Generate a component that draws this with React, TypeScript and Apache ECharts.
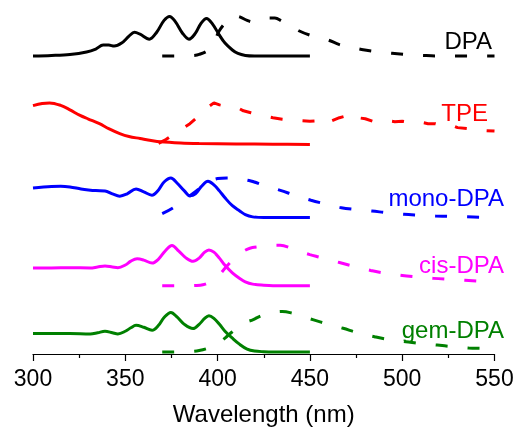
import React, { useEffect, useRef } from "react";
import * as echarts from "echarts";

// Wavelength axis ticks
const xTicks = [300, 350, 400, 450, 500, 550];

// Sample names and colours
const samples = ["DPA", "TPE", "mono-DPA", "cis-DPA", "gem-DPA"];
const colors = ["#000000", "#FF0000", "#0000FF", "#FF00FF", "#008000"];
// vertical offsets of each stacked spectrum (a.u.)
const offsets = [301.5, 212, 138, 69, 2];

// ---- DPA ----
const dpaAbsNm = [300, 310, 320, 329, 334, 338, 341, 344, 348, 352, 355, 358, 363, 367, 371, 374, 377, 381, 384.5, 388, 391, 394, 397, 401, 404, 408, 411, 415, 420, 450];
const dpaAbs = [0, 0.5, 1.5, 4, 7, 11, 11, 10, 13, 20, 24, 22, 17, 24, 36, 40, 35, 23, 17, 23, 33, 38, 33, 21, 13, 6, 2.5, 0.5, 0, 0];
const dpaEmNm = [370, 380, 387, 390, 395, 398, 401, 405, 409, 412, 416, 419, 423, 427, 431, 435, 440, 444, 450, 455, 460, 466, 472, 478, 485, 494.5, 503, 512, 520, 535, 550];
const dpaEm = [0, 0, 0.5, 1.5, 6, 14, 25.7, 35, 40.5, 39.5, 36, 34.5, 36.5, 38.5, 38.5, 35, 30, 25.5, 21, 18.5, 16, 11.5, 9, 6.5, 4.5, 2.7, 1.5, 0.5, 0, 0, 0];

// ---- TPE ----
const tpeAbsNm = [300, 305, 309, 315, 320, 325.5, 330, 336, 341, 347, 352, 358, 364, 369, 380, 390, 410, 430, 450];
const tpeAbs = [39.3, 41.5, 42, 39.5, 35, 29.3, 25.7, 21, 16, 11, 8, 6, 4, 2.7, 1.5, 1, 0.5, 0.2, 0];
const tpeEmNm = [368, 372, 376, 380, 385, 390, 395, 398, 401, 405, 410, 414, 418, 422, 426, 430, 435, 440, 445, 450, 455, 459, 462, 466, 470, 473, 476, 480, 484, 488, 492, 496, 500, 505, 510, 514, 518, 522, 526, 530, 535, 540, 545, 550];
const tpeEm = [1, 5, 10, 15, 21, 29, 38, 42, 40, 38.5, 38, 34, 32, 30, 28.5, 27, 25.5, 24.5, 24, 23.5, 24, 28, 24, 27, 29, 24, 27, 26, 23.5, 25, 24, 23, 23.5, 22, 22.5, 21, 21, 19, 20, 17, 16, 15.5, 14, 13.5];

// ---- mono-DPA ----
const monoAbsNm = [300, 310, 315, 320, 326, 330, 334, 339, 343, 347, 351, 355.8, 360, 364.4, 368, 371, 374.7, 378, 382, 385, 388, 391, 394.8, 398, 401, 404, 408, 412, 415, 419, 425, 450];
const monoAbs = [30, 31.5, 31.7, 31, 29, 28, 27.3, 27, 24, 21.7, 24, 29, 26, 22.7, 28, 36, 40, 35, 27, 22, 24, 31, 36.7, 33, 27, 20, 12, 6.7, 3, 0.7, 0, 0];
const monoEmNm = [370, 376, 385, 390, 395, 400, 405, 410, 418, 426, 434, 442, 450.6, 459, 467, 475, 483.6, 492, 501, 509, 518, 526, 535, 542, 550];
const monoEm = [4, 10, 22, 29, 36, 39.5, 40, 39.5, 37, 32, 27.5, 22.5, 17.5, 13.5, 10, 8.2, 6.7, 4.8, 3.3, 2.5, 1.7, 1.2, 0.8, 0.3, 0];

// ---- cis-DPA ----
const cisAbsNm = [300, 310, 320, 331, 335, 339, 343, 346, 350, 353, 356.4, 360, 364.5, 368, 371.5, 375.3, 379, 383, 386.7, 390, 393, 395.3, 398, 401, 404, 408, 412, 415, 419, 425, 430, 450];
const cisAbs = [18, 18, 18.3, 18, 19, 20, 19, 18.3, 21, 25, 27.3, 26, 23, 27, 35, 40.7, 35, 28, 24.7, 28, 34, 36.3, 34, 28, 20.7, 13, 7.3, 4, 1.7, 0.5, 0, 0];
const cisEmNm = [370, 380, 388, 392, 396, 400, 403, 407, 411, 414, 417.5, 422, 428, 434, 440, 445, 450, 455, 460, 466, 472, 477, 483, 490, 500, 508, 517, 525, 534, 542, 550];
const cisEm = [0, 0, 0.3, 1, 4, 9, 15.5, 24, 31, 35, 38, 39.5, 41, 41, 38, 34.5, 31.5, 29, 26.5, 23.5, 20.5, 18, 15.5, 13, 10.5, 9, 7.5, 6.5, 5.5, 4.5, 3.5];

// ---- gem-DPA ----
const gemAbsNm = [300, 310, 320, 331, 335, 339, 343, 346, 350, 353, 355.8, 360, 364.5, 368, 371, 374.7, 378, 382, 386.7, 390, 393, 395.3, 398, 401, 404, 408, 412, 416, 420, 425, 430, 450];
const gemAbs = [18.7, 18.7, 18.7, 18.3, 19.5, 21, 19.5, 18.3, 21, 24.5, 27, 25, 22, 27, 35, 40, 35.5, 28, 23.7, 28, 34, 36.7, 34, 28, 21, 14, 7.7, 3, 1, 0.3, 0, 0];
const gemEmNm = [370, 385, 390, 395, 400, 404, 408, 412, 416, 419, 424, 430, 435, 440, 446, 452, 460, 468, 476, 485, 493, 502, 510, 519, 527, 536, 543, 550];
const gemEm = [0, 0.5, 1.5, 4, 8.5, 14, 20.5, 26, 30.5, 32.5, 37, 40, 41, 39.5, 36, 32.5, 28, 24, 19.5, 15.5, 12.5, 10.5, 8.5, 7, 5.5, 4, 3.7, 3.5];

const absNm = [dpaAbsNm, tpeAbsNm, monoAbsNm, cisAbsNm, gemAbsNm];
const absVals = [dpaAbs, tpeAbs, monoAbs, cisAbs, gemAbs];
const emNm = [dpaEmNm, tpeEmNm, monoEmNm, cisEmNm, gemEmNm];
const emVals = [dpaEm, tpeEm, monoEm, cisEm, gemEm];

// label placement (right edge x, centre y) in pixels
const labelPos = [
  [492, 40],
  [488, 112],
  [504, 197],
  [504, 264],
  [504, 329],
];

const FONT = "'Liberation Sans', Arial, sans-serif";

function zip(xs: number[], ys: number[], off: number) {
  return xs.map((x, i) => [x, ys[i] + off]);
}

export default function App() {
  const ref = useRef<HTMLDivElement>(null);
  useEffect(() => {
    const chart = echarts.init(ref.current!, null, { renderer: "svg" });
    const series: any[] = [];
    samples.forEach((name, i) => {
      series.push({
        type: "line",
        name: name + " abs",
        data: zip(absNm[i], absVals[i], offsets[i]),
        showSymbol: false,
        symbol: "none",
        smooth: 0.35,
        lineStyle: { color: colors[i], width: 3 },
        silent: true,
      });
      series.push({
        type: "line",
        name: name + " em",
        data: zip(emNm[i], emVals[i], offsets[i]),
        showSymbol: false,
        symbol: "none",
        smooth: name === "TPE" ? false : 0.35,
        lineStyle: { color: colors[i], width: 3, type: [12, 20] },
        silent: true,
      });
    });
    chart.setOption({
      animation: false,
      grid: { left: 33, right: 24.5, top: 8, bottom: 72 },
      xAxis: {
        type: "value",
        min: 300,
        max: 550,
        interval: 50,
        name: "Wavelength (nm)",
        nameLocation: "middle",
        nameGap: 47,
        nameTextStyle: { fontFamily: FONT, fontSize: 24, color: "#000" },
        axisLine: { show: true, lineStyle: { color: "#000", width: 1.2 } },
        axisTick: { show: true, inside: false, length: 7, lineStyle: { color: "#000", width: 1.2 } },
        minorTick: { show: true, splitNumber: 2, length: 4, lineStyle: { color: "#000", width: 1.2 } },
        splitLine: { show: false },
        axisLabel: {
          fontFamily: FONT,
          fontSize: 23,
          color: "#000",
          margin: 12,
          formatter: (v: number) => (xTicks.includes(v) ? String(v) : ""),
        },
      },
      yAxis: {
        type: "value",
        min: 0,
        max: 350,
        show: false,
      },
      graphic: samples.map((name, i) => ({
        type: "text",
        x: labelPos[i][0],
        y: labelPos[i][1],
        style: {
          text: name,
          fill: colors[i],
          fontFamily: FONT,
          fontSize: 24,
          align: "right",
          verticalAlign: "middle",
        },
        silent: true,
      })),
      series,
    });
    return () => chart.dispose();
  }, []);
  return <div ref={ref} style={{ position: "fixed", left: 0, top: 0, width: 519, height: 430 }} />;
}
